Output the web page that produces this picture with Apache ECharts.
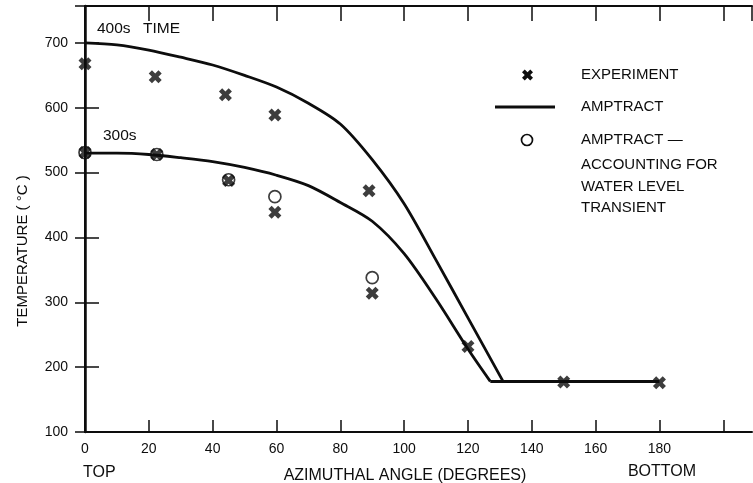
<!DOCTYPE html>
<html>
<head>
<meta charset="utf-8">
<script src="https://cdn.jsdelivr.net/npm/echarts@6/dist/echarts.min.js"></script>
<style>
  html, body { margin: 0; padding: 0; background: #fff; }
  #chart { width: 753px; height: 483px; }
</style>
</head>
<body>
<div id="chart"></div>
<script>
// AMPTRACT curves
var angle400 = [0, 10, 20, 30, 40, 50, 60, 70, 80, 90, 100, 110, 120, 131];
var temp400  = [700, 697, 689, 678, 666, 650, 632, 607, 575, 520, 452, 365, 276, 178];
var angle300 = [0, 10, 20, 30, 40, 50, 60, 70, 80, 90, 100, 110, 120, 127];
var temp300  = [530, 530, 528, 523, 517, 508, 496, 480, 454, 425, 375, 305, 228, 178];
// shared flat part at the bottom
var flatAngle = [127, 180];
var flatTemp  = [178, 178];

// experiment (x marks)
var expAngle = [0, 22, 44, 59.5, 0, 22.5, 45, 59.5, 89, 90, 120, 150, 180];
var expTemp  = [668, 648, 620, 589, 531, 528, 488, 439, 472, 314, 232, 177, 176];

// AMPTRACT accounting for water level transient (open circles)
var trAngle = [0, 22.5, 45, 59.5, 90];
var trTemp  = [531, 528, 489, 463, 338];

var ink = '#0d0d0d';
var font = 'Liberation Sans, Arial, sans-serif';
var crossPath = 'path://M0,2.5L2.5,0L5,2.5L7.5,0L10,2.5L7.5,5L10,7.5L7.5,10L5,7.5L2.5,10L0,7.5L2.5,5Z';
var crossPts = [[0,2.5],[2.5,0],[5,2.5],[7.5,0],[10,2.5],[7.5,5],[10,7.5],[7.5,10],[5,7.5],[2.5,10],[0,7.5],[2.5,5]];

function pairs(xs, ys) {
  return xs.map(function (x, i) { return [x, ys[i]]; });
}

function label(x, y, text, size, extra) {
  var style = { text: text, font: size + 'px ' + font, fill: ink, verticalAlign: 'middle' };
  for (var k in extra) style[k] = extra[k];
  return { type: 'text', x: x, y: y, style: style };
}

var chart = echarts.init(document.getElementById('chart'), null, { renderer: 'canvas' });

var opt = {
  backgroundColor: '#fff',
  animation: false,
  grid: { left: 85, top: 6, width: 667, height: 426 },
  xAxis: [
    {
      type: 'value', min: 0, max: 209, interval: 20,
      axisLine: { lineStyle: { color: ink, width: 2 } },
      axisTick: { inside: true, length: 12, lineStyle: { color: ink, width: 1.5 } },
      axisLabel: {
        color: ink, fontSize: 14, fontFamily: font, margin: 10,
        showMaxLabel: false,
        formatter: function (v) { return v > 180 ? '' : v; }
      },
      splitLine: { show: false }
    },
    {
      type: 'value', position: 'top', min: 0, max: 209, interval: 20,
      axisLine: { lineStyle: { color: ink, width: 2 } },
      axisTick: { inside: true, length: 15, lineStyle: { color: ink, width: 1.5 } },
      axisLabel: { show: false },
      splitLine: { show: false }
    }
  ],
  yAxis: [
    {
      type: 'value', min: 100, max: 757, interval: 100,
      axisLine: { lineStyle: { color: ink, width: 2.5 } },
      axisTick: { inside: true, length: 14, lineStyle: { color: ink, width: 1.5 } },
      axisLabel: { color: ink, fontSize: 14, fontFamily: font, margin: 17, showMaxLabel: false },
      splitLine: { show: false }
    },
    {
      type: 'value', position: 'right', min: 100, max: 757, interval: 100,
      axisLine: { lineStyle: { color: ink, width: 2 } },
      axisTick: { inside: true, length: 10, lineStyle: { color: ink, width: 1.5 } },
      axisLabel: { show: false },
      splitLine: { show: false }
    }
  ],
  series: [
    {
      name: '400s', type: 'line', data: pairs(angle400, temp400),
      smooth: 0.3, showSymbol: false, z: 2,
      lineStyle: { color: ink, width: 2.8 }
    },
    {
      name: '300s', type: 'line', data: pairs(angle300, temp300),
      smooth: 0.3, showSymbol: false, z: 2,
      lineStyle: { color: ink, width: 2.8 }
    },
    {
      name: 'flat', type: 'line', data: pairs(flatAngle, flatTemp),
      showSymbol: false, z: 2,
      lineStyle: { color: ink, width: 3 }
    },
    {
      name: 'EXPERIMENT', type: 'scatter', data: pairs(expAngle, expTemp),
      symbol: crossPath, symbolSize: 13, z: 4,
      itemStyle: { color: ink }
    },
    {
      name: 'TRANSIENT', type: 'scatter', data: pairs(trAngle, trTemp),
      symbol: 'circle', symbolSize: 12, z: 3,
      itemStyle: { color: 'rgba(0,0,0,0)', borderColor: ink, borderWidth: 1.7 }
    }
  ],
  graphic: [
    // curve labels
    label(97, 29, '400s', 15.5),
    label(143, 29, 'TIME', 15.5),
    label(103, 136, '300s', 15.5),
    // axis captions
    {
      type: 'text', x: 23, y: 251, rotation: Math.PI / 2,
      style: { text: 'TEMPERATURE ( °C )', font: '15px ' + font, fill: ink, align: 'center', verticalAlign: 'middle' }
    },
    label(83, 473, 'TOP', 16),
    label(405, 476, 'AZIMUTHAL ANGLE (DEGREES)', 16, { align: 'center' }),
    label(662, 472, 'BOTTOM', 16, { align: 'center' }),
    // legend
    {
      type: 'polygon',
      shape: { points: crossPts.map(function (p) { return [522 + p[0] * 1.1, 69.5 + p[1] * 1.1]; }) },
      style: { fill: ink }
    },
    label(581, 75, 'EXPERIMENT', 15),
    { type: 'line', shape: { x1: 495, y1: 107, x2: 555, y2: 107 }, style: { stroke: ink, lineWidth: 3 } },
    label(581, 107, 'AMPTRACT', 15),
    { type: 'circle', shape: { cx: 527, cy: 140, r: 5.5 }, style: { fill: 'none', stroke: ink, lineWidth: 1.7 } },
    label(581, 140, 'AMPTRACT —', 15),
    label(581, 165, 'ACCOUNTING FOR', 15),
    label(581, 187, 'WATER LEVEL', 15),
    label(581, 208, 'TRANSIENT', 15)
  ]
};

chart.setOption(opt);
</script>
</body>
</html>
